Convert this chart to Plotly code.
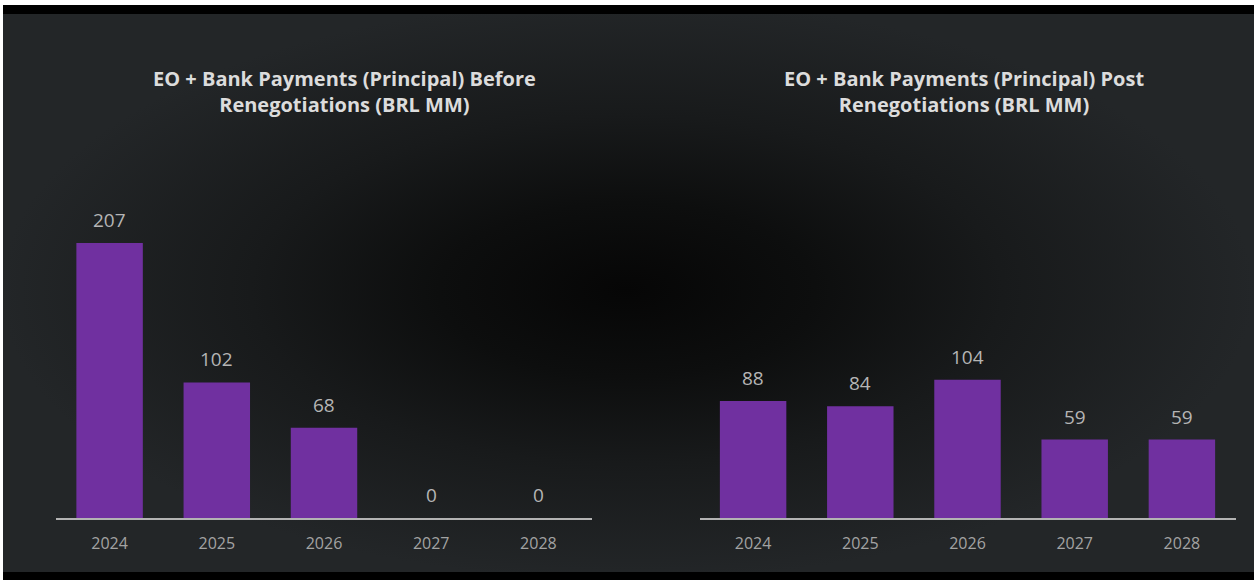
import plotly.graph_objects as go

years = ["2024", "2025", "2026", "2027", "2028"]
before_values = [207, 102, 68, 0, 0]
post_values = [88, 84, 104, 59, 59]
title_before = "EO + Bank Payments (Principal) Before<br>Renegotiations (BRL MM)"
title_post = "EO + Bank Payments (Principal) Post<br>Renegotiations (BRL MM)"

W, H = 1254, 580
BAR = "#7030A0"
BG_EDGE = "#222527"

def px_x(p):
    return p / W

def px_y(p):
    return 1 - p / H

fig = go.Figure()

# background vignette (decorative)
fig.add_trace(go.Scatter(
    x=[0, 1, 1, 0, 0], y=[0, 0, 1, 1, 0], mode="lines", fill="toself",
    line=dict(width=0), fillcolor=BG_EDGE,
    fillgradient=dict(type="radial", colorscale=[[0, "#060606"], [0.3, "#0d0e0e"], [0.6, "#181a1b"], [1, "#232628"]]),
    xaxis="x", yaxis="y", hoverinfo="skip", showlegend=False,
))

fig.add_trace(go.Bar(x=years, y=before_values, marker=dict(color=BAR, line=dict(width=0)),
                     xaxis="x2", yaxis="y2", showlegend=False, hoverinfo="skip"))
fig.add_trace(go.Bar(x=years, y=post_values, marker=dict(color=BAR, line=dict(width=0)),
                     xaxis="x3", yaxis="y3", showlegend=False, hoverinfo="skip"))

ymax = 318 / 1.329
y_dom = [px_y(518), px_y(200)]
common_x = dict(type="category", range=[-0.5, 4.5], showline=True, linecolor="#b3b3b3", linewidth=2,
                showgrid=False, zeroline=False, ticks="outside", ticklen=0,
                ticklabelstandoff=10,
                tickfont=dict(family="Open Sans", size=16, color="#a3a3a3"))
common_y = dict(range=[0, ymax], showgrid=False, zeroline=False, showticklabels=False,
                showline=False, domain=y_dom)

annotations = []
for xr, yr, vals in [("x2", "y2", before_values), ("x3", "y3", post_values)]:
    for i, v in enumerate(vals):
        annotations.append(dict(x=i, y=v, xref=xr, yref=yr, text=str(v), showarrow=False,
                                yanchor="bottom", yshift=8,
                                font=dict(family="Open Sans", size=19, color="#b5b5b5")))

annotations.append(dict(x=px_x(344), y=px_y(91), xref="paper", yref="paper", text=title_before,
                        showarrow=False, xanchor="center", yanchor="middle",
                        font=dict(family="Open Sans", size=20, color="#dcdcdc", weight="bold")))
annotations.append(dict(x=px_x(964), y=px_y(91), xref="paper", yref="paper", text=title_post,
                        showarrow=False, xanchor="center", yanchor="middle",
                        font=dict(family="Open Sans", size=20, color="#dcdcdc", weight="bold")))

shapes = [
    dict(type="rect", xref="paper", yref="paper", x0=0, x1=1, y0=px_y(5), y1=1,
         fillcolor="white", line=dict(width=0)),
    dict(type="rect", xref="paper", yref="paper", x0=0, x1=1, y0=px_y(14), y1=px_y(5),
         fillcolor="black", line=dict(width=0)),
    dict(type="rect", xref="paper", yref="paper", x0=0, x1=1, y0=0, y1=px_y(572),
         fillcolor="black", line=dict(width=0)),
    dict(type="rect", xref="paper", yref="paper", x0=0, x1=px_x(3), y0=0, y1=1,
         fillcolor="white", line=dict(width=0)),
]

fig.update_layout(
    width=W, height=H, margin=dict(l=0, r=0, t=0, b=0),
    paper_bgcolor=BG_EDGE, plot_bgcolor="rgba(0,0,0,0)",
    bargap=0.38,
    xaxis=dict(domain=[0, 1], range=[0, 1], visible=False, fixedrange=True),
    yaxis=dict(domain=[0, 1], range=[0, 1], visible=False, fixedrange=True),
    xaxis2=dict(domain=[px_x(56), px_x(592)], anchor="y2", **common_x),
    yaxis2=dict(anchor="x2", **common_y),
    xaxis3=dict(domain=[px_x(699.5), px_x(1235.5)], anchor="y3", **common_x),
    yaxis3=dict(anchor="x3", **common_y),
    annotations=annotations, shapes=shapes,
)

fig.write_html("out.html", config={"displayModeBar": False},
               post_script="document.body.style.margin='0px';")
